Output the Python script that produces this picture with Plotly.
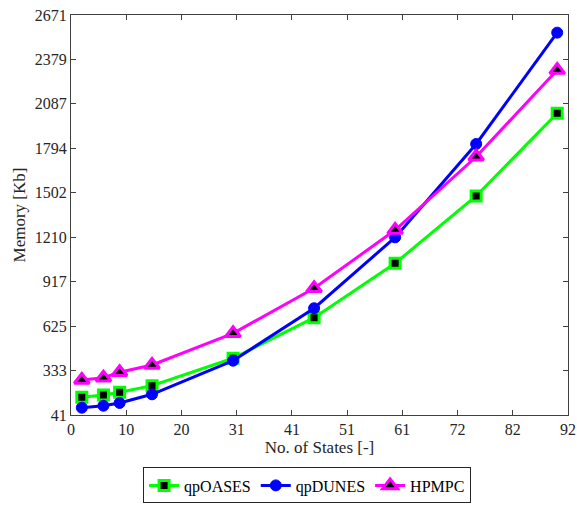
import numpy as np
import plotly.graph_objects as go

states = [2, 6, 9, 15, 30, 45, 60, 75, 90]
qpoases = [157, 172, 190, 234, 414, 681, 1039, 1481, 2025]
qpdunes = [89, 102, 120, 177, 398, 743, 1209, 1823, 2555]
hpmpc = [271, 286, 322, 370, 578, 874, 1257, 1739, 2309]

x_ticklabels = ["0", "10", "20", "31", "41", "51", "61", "72", "82", "92"]
y_ticklabels = ["41", "333", "625", "917", "1210", "1502", "1794", "2087", "2379", "2671"]

xmin, xmax = 0, 92
ymin, ymax = 41, 2671

font_family = "Liberation Serif, Times New Roman, serif"
txt = "#262626"

fig = go.Figure()
fig.add_trace(go.Scatter(
    x=states, y=qpoases, name="qpOASES", mode="lines+markers",
    line=dict(color="#00ff00", width=3),
    marker=dict(symbol="square", size=10, color="black",
                line=dict(color="#00ff00", width=3)),
))
fig.add_trace(go.Scatter(
    x=states, y=qpdunes, name="qpDUNES", mode="lines+markers",
    line=dict(color="#0000ff", width=3),
    marker=dict(symbol="circle", size=11, color="#0000ff",
                line=dict(color="#0000ff", width=1)),
))
fig.add_trace(go.Scatter(
    x=states, y=hpmpc, name="HPMPC", mode="lines+markers",
    line=dict(color="#ff00ff", width=3),
    marker=dict(symbol="triangle-up", size=13, color="black",
                line=dict(color="#ff00ff", width=3)),
))

axis_common = dict(
    showgrid=False, zeroline=False, showline=True, linecolor="#404040",
    linewidth=1, mirror="ticks", ticks="inside", ticklen=5, automargin=False,
    tickcolor="#404040", tickfont=dict(family=font_family, size=16, color=txt),
)

fig.update_xaxes(
    range=[xmin, xmax], tickmode="array",
    tickvals=list(np.linspace(xmin, xmax, len(x_ticklabels))),
    ticktext=x_ticklabels,
    title=dict(text="No. of States [-]", font=dict(family=font_family, size=17, color=txt), standoff=2),
    **axis_common,
)
fig.update_yaxes(
    range=[ymin, ymax], tickmode="array",
    tickvals=list(np.linspace(ymin, ymax, len(y_ticklabels))),
    ticktext=y_ticklabels,
    title=dict(text="Memory [Kb]", font=dict(family=font_family, size=17, color=txt), standoff=4),
    **axis_common,
)

fig.update_layout(
    width=577, height=505,
    margin=dict(l=71, r=9, t=15, b=90),
    paper_bgcolor="white", plot_bgcolor="white",
    font=dict(family=font_family),
    showlegend=True,
    legend=dict(
        orientation="h", x=0.475, xanchor="center",
        yref="container", y=0.003, yanchor="bottom",
        bordercolor="#262626", borderwidth=1, bgcolor="white",
        font=dict(family=font_family, size=16, color="black"),
        itemwidth=30, tracegroupgap=0,
    ),
)

fig.write_html("out.html", config={"displayModeBar": False},
               post_script="document.body.style.margin='0px';")
